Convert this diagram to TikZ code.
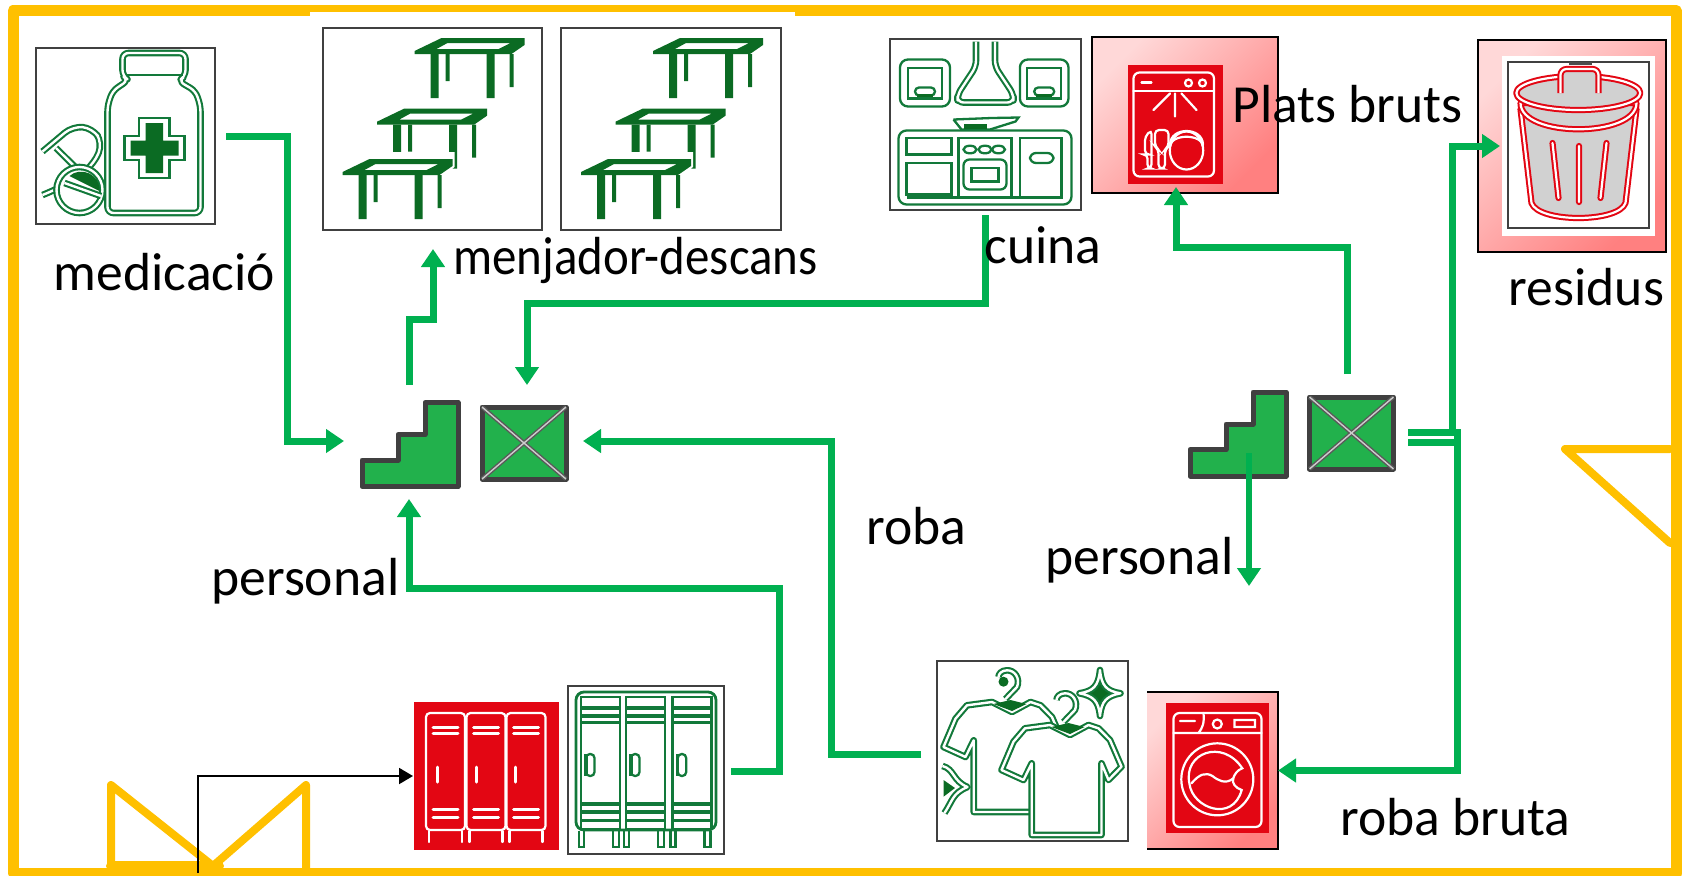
\documentclass[tikz,border=0pt]{standalone}
\usepackage{fontspec}
\usepackage{graphicx}
\setmainfont{Carlito}
\usetikzlibrary{arrows.meta}
\definecolor{framegold}{HTML}{FFC000}
\definecolor{flowgreen}{HTML}{00B050}
\definecolor{stairgreen}{HTML}{22B14C}
\definecolor{icongreen}{HTML}{12793A}
\definecolor{icondark}{HTML}{0B6B23}
\definecolor{iconred}{HTML}{E30613}
\definecolor{pinklight}{HTML}{FFD8D8}
\definecolor{pinkdark}{HTML}{FF8080}
\tikzset{
    size/.style 2 args={minimum width=#1*0.5pt,minimum height=#2*0.5pt,inner sep=0pt,outer sep=0pt},
    iconbox/.style={draw=black!75,line width=0.6pt,fill=white},
    redbox/.style={fill=iconred},
    pinkbox/.style={left color=pinklight,right color=pinkdark,shading angle=45},
    label/.style={anchor=base west,inner sep=0pt,font=\fontsize{26.8}{30}\selectfont},
    wall/.style={draw=framegold,line width=5.5pt,line join=round},
    doorline/.style={draw=framegold,line width=4pt,line join=round,line cap=round},
    flowline/.style={draw=flowgreen,line width=3.5pt},
    flow/.style={flowline,-{Triangle[width=11.5pt,length=9pt]}},
    hollow/.style={draw=icongreen,double=white,line width=1.05pt,double distance=1.2pt,line join=round},
    thinline/.style={draw=icongreen,line width=1.15pt},
    redhollow/.style={draw=iconred,double=white,line width=1pt,double distance=1.1pt,line join=round},
    whiteline/.style={draw=white,line width=1.1pt,line cap=round},
    stairicon/.pic={
        \draw[draw=black!75,fill=stairgreen,line width=2.5pt,line join=round]
            (15,-42) -- (48,-42) -- (48,42) -- (-48,42) -- (-48,15.5) -- (-12,15.5) -- (-12,-10) -- (15,-10) -- cycle;
    },
    crossicon/.pic={
        \draw[draw=black!75,fill=stairgreen,line width=2.5pt,line join=round] (-42,-36) rectangle (42,36);
        \draw[draw=black!65,double=white!80!black,line width=0.7pt,double distance=0.7pt] (-42,-36) -- (42,36) (42,-36) -- (-42,36);
    },
    medicon/.pic={
        \draw[hollow,rounded corners=3pt] (3,-56) -- (-3,-60) -- (-3,-83) -- (60,-83) -- (60,-60) -- (53,-55) -- (70,-45) -- (75,-30) -- (75,77) -- (-18,77) -- (-18,-30) -- (-13,-45) -- cycle;
        \draw[thinline] (0,-61) -- (57,-61);
        \draw[thinline] (13.5,-18) -- (44,-18) -- (44,0) -- (59,0) -- (59,24) -- (44,24) -- (44,42) -- (13.5,42) -- (13.5,24) -- (-1,24) -- (-1,0) -- (13.5,0) -- cycle;
        \fill[icondark] (20,-13) -- (37.5,-13) -- (37.5,4.5) -- (53,4.5) -- (53,19.5) -- (37.5,19.5) -- (37.5,37) -- (20,37) -- (20,19.5) -- (5,19.5) -- (5,4.5) -- (20,4.5) -- cycle;
        \draw[hollow,rounded corners=5pt] (-83,15.5) -- (-53,-9.7) -- (-33,-8) -- (-23,7) -- (-31,27) -- (-53,45) -- (-73,55) -- (-83,59);
        \draw[hollow] (-69.5,12) -- (-46,35.3);
        \draw[hollow,fill=white] (-46,54) circle (23);
        \fill[icondark] (-56,40) .. controls (-45,30) and (-25,38) .. (-26,55) -- cycle;
        \draw[hollow] (-61,47) -- (-24.5,60);
    },
    onetable/.pic={
        \fill[white] (-4,18) -- (-4,10) -- (25,-7) -- (112,-7) -- (112,8) -- (98,20) -- cycle;
        \fill[icondark,even odd rule] (0,16) -- (0,13) -- (27,0) -- (110,0) -- (110,7) -- (97,16) -- cycle (22,11) -- (33,5) -- (96,5) -- (84,11) -- cycle;
        \fill[icondark] (16,16) rectangle (24,60) (31,16) rectangle (35,43) (72,16) rectangle (80,60) (95,16) rectangle (99,49);
    },
    tableset/.pic={
        \foreach \tx/\ty in {-18/-91,-55.5/-20.3,-90/30}
            \pic at (\tx,\ty) {onetable};
    },
    kitchenicon/.pic={
        \foreach \cx/\rx in {-60.5/25,58.7/24.3}{
            \draw[thinline,rounded corners=4pt] (\cx-\rx,-65) rectangle (\cx+\rx,-18);
            \draw[thinline] (\cx-17,-26) -- (\cx-17,-56.5) -- (\cx+17,-56.5) -- (\cx+17,-26) -- cycle;
            \draw[thinline,fill=white,rounded corners=2pt] (\cx-10,-37) rectangle (\cx+10,-29);
            \fill[icondark] (\cx-8,-31) rectangle (\cx+8,-28);
        }
        \draw[hollow,rounded corners=3pt] (-9.5,-83) -- (-9.5,-58) -- (-28,-30) -- (-28,-22) -- (28,-22) -- (28,-30) -- (9.5,-58) -- (9.5,-83);
        \draw[thinline,rounded corners=4pt] (-87,6) rectangle (86,80);
        \draw[thinline] (-79,13.5) rectangle (-34,30) (-79,38.5) rectangle (-34,70) (-27,13.5) rectangle (26,73) (34.5,13.5) rectangle (76,73);
        \draw[thinline] (-79,73) -- (76,73);
        \foreach \kx in {-15.5,-0.5,13}
            \draw[thinline] (\kx,25) ellipse (6.5 and 3.8);
        \draw[thinline,rounded corners=3pt] (-22,35) rectangle (21,65);
        \draw[thinline] (-14,43.5) rectangle (13,57);
        \draw[thinline,rounded corners=3pt] (44.5,28.5) rectangle (68,38.5);
        \draw[thinline] (-32,-5) -- (6,-6.5) -- (33,-7) -- (30,-3) -- (4.5,5) (-32,-5) -- (-24,5) -- (4.5,5);
        \fill[icondark] (-22,-0.5) rectangle (1,4);
    },
    dishicon/.pic={
        \draw[whiteline,rounded corners=3pt] (-42,-52) rectangle (38.5,52);
        \draw[whiteline] (-42,-33.5) -- (38.5,-33.5) (-34,-42) -- (-24,-42);
        \draw[whiteline] (13,-41.5) circle (3.5) (27,-41.5) circle (3.5);
        \draw[whiteline] (-5.5,-31) -- (-22,-14.5) (-0.5,-31) -- (-0.5,-8) (6,-31) -- (21,-14.5);
        \draw[whiteline] (11,26) ellipse (16.7 and 19);
        \draw[whiteline] (-5.5,22) .. controls (-5,9) and (27,9) .. (27.5,22) (-5.5,20) .. controls (-5,2) and (27,2) .. (27.5,20);
        \draw[whiteline,rounded corners=2pt] (-30.5,30) -- (-30.5,12) -- (-24,5.5) -- (-24,44) -- (-28,44) -- (-28,30) -- cycle;
        \draw[whiteline,rounded corners=2pt] (-20.5,5.5) -- (-20.5,22) -- (-17,25) -- (-17,44) -- (-10.5,44) -- (-10.5,25) -- (-7,22) -- (-7,5.5) -- cycle;
    },
    trashicon/.pic={
        \fill[black!70] (-10,-83) rectangle (13,-80);
        \draw[redhollow,fill=black!18] (-58,-36) -- (-47,58) .. controls (-40,78) and (40,78) .. (47,58) -- (58,-36) -- cycle;
        \draw[redhollow,fill=black!18] (-58,-42) .. controls (-58,-7) and (58,-7) .. (58,-42) -- cycle;
        \draw[redhollow,fill=black!18] (-0.2,-52) ellipse (62 and 17);
        \draw[redhollow,fill=black!18,rounded corners=3pt] (-18,-52) -- (-18,-76) -- (20,-76) -- (20,-52);
        \draw[redhollow,line cap=round] (-26,-2) -- (-20,53) (0.5,1) -- (0.5,57) (28,-2) -- (22,53);
    },
    redlockers/.pic={
        \foreach \lx/\hx in {-60.5/-49.5,-20/-10,20/29}{
            \draw[whiteline,rounded corners=2pt] (\lx,-63) rectangle (\lx+39,54);
            \draw[whiteline,line width=1.5pt] (\lx+7,-49) -- (\lx+32,-49) (\lx+7,-43) -- (\lx+32,-43) (\lx+7,33) -- (\lx+32,33) (\lx+7,41) -- (\lx+32,41);
            \draw[whiteline,line width=1.5pt] (\hx,-9) -- (\hx,6);
            \draw[whiteline] (\lx+3,55) -- (\lx+3,66) (\lx+36,55) -- (\lx+36,66);
        }
    },
    greenlockers/.pic={
        \draw[thinline,rounded corners=4pt,line width=1.4pt] (-70,60) -- (-70,-78) -- (70,-78) -- (70,60) -- cycle;
        \foreach \lx/\hx in {-65/-60,-20/-15,26.5/31.7}{
            \draw[thinline,line width=1.4pt] (\lx,-73) rectangle (\lx+39,59);
            \draw[thinline,line width=1.6pt] (\lx,-62) -- (\lx+39,-62) (\lx,-54) -- (\lx+39,-54) (\lx,-47.7) -- (\lx+39,-47.7) (\lx,34) -- (\lx+39,34) (\lx,42) -- (\lx+39,42) (\lx,50.7) -- (\lx+39,50.7);
            \draw[thinline,rounded corners=2pt] (\hx,-16) rectangle (\hx+8.5,6);
            \draw[thinline,line width=1.6pt] (\hx,-16) -- (\hx,6);
            \draw[thinline] (\lx-2,61) -- (\lx-2,77) -- (\lx+3,77) -- (\lx+3,61) (\lx+32,61) -- (\lx+32,77) -- (\lx+38,77) -- (\lx+38,61);
        }
    },
    shirt/.pic={
        \draw[hollow,fill=white] (17.5,-26) -- (-7.5,-22.7) -- (-19,-9.3) -- (-31,19) -- (-9,29) -- (-0.8,12.3) -- (-0.8,84) -- (69,84) -- (69,12.3) -- (76,29) -- (89,15.7) -- (77.5,-11) -- (66,-22.7) -- (56,-26) -- (37.5,-16) -- cycle;
        \fill[icondark] (19,-24) -- (36,-28) -- (52,-24) -- (37.5,-17) -- cycle;
        \draw[hollow] (31,-29) -- (42.5,-41) .. controls (46,-50) and (40,-58) .. (32.5,-57.7) .. controls (27,-57.7) and (24,-54) .. (24,-51);
    },
    laundryicon/.pic={
        \pic at (-58,-23) {shirt};
        \fill[icondark] (-29,-69.3) circle (5);
        \pic at (0,0) {shirt};
        \draw[hollow,fill=icondark] (67.5,-81) .. controls (69,-65) and (74,-60) .. (88,-57.7) .. controls (74,-55) and (69,-50) .. (67.5,-35) .. controls (66,-50) and (61,-55) .. (47,-57.7) .. controls (61,-60) and (66,-65) .. (67.5,-81) -- cycle;
        \fill[icondark] (-89,29) -- (-77.5,37) -- (-89,45.7) -- cycle;
        \draw[hollow] (-90,15) .. controls (-78,18) and (-80,30) .. (-65,36) .. controls (-80,42) and (-80,50) .. (-88,62);
    },
    washericon/.pic={
        \draw[whiteline,rounded corners=3pt] (-44,-55) rectangle (44,59);
        \draw[whiteline] (-44,-35) -- (44,-35) (-14,-55) .. controls (-13,-45) and (-15,-40) .. (-19,-35) (-37.5,-47) -- (-22.5,-47);
        \draw[whiteline] (17,-48) rectangle (37.5,-41) (-0.2,-44) circle (4.5);
        \draw[whiteline] (-0.2,11.3) circle (36);
        \draw[whiteline] (24.8,0.3) .. controls (5,-30) and (-35,-15) .. (-28,16) .. controls (-25,40) and (15,55) .. (24.2,22) .. controls (18,20) and (14,15) .. (15.8,10.3) .. controls (17,6) and (20,2) .. (24.8,0.3) -- cycle;
        \draw[whiteline] (-26,15.3) .. controls (-18,6) and (-12,4) .. (-5,8) .. controls (0,12) and (8,17) .. (15.8,10.3);
    }
}
\begin{document}
\begin{tikzpicture}[x=0.5pt,y=-0.5pt]
    \useasboundingbox (0,0) rectangle (1688,875);
    \draw[wall] (13,10.5) -- (1676,10.5) -- (1676,873) -- (13,873) -- cycle;
    \fill[white] (310,12) rectangle (795,17);
    \draw[doorline] (111,868) -- (111,785) -- (213,866) -- (306,785) -- (306,868);
    \draw[doorline,line width=5pt] (111,866) -- (219,866);
    \draw[doorline] (1670,449) -- (1565,449) -- (1670,543);

    \node[iconbox,size={179}{176}] (medbox) at (125.5,136) {};
    \node[iconbox,size={219}{202}] (tableA) at (432.5,129) {};
    \node[iconbox,size={220}{202}] (tableB) at (671,129) {};
    \node[iconbox,size={191}{171}] (kitchen) at (985.5,124.5) {};
    \node[pinkbox,draw=black,line width=0.9pt,size={186}{156}] (dish) at (1185,115) {};
    \node[redbox,size={95}{119}] (dishred) at (1175.5,124.5) {};
    \node[pinkbox,draw=black,line width=0.9pt,size={188}{212}] (trash) at (1572,146) {};
    \node[fill=white,size={153}{180}] (trashback) at (1578.5,146) {};
    \node[iconbox,size={141}{166}] (trashbox) at (1578.5,145) {};
    \node[size={102}{89}] (stairsL) at (410,444.5) {};
    \node[size={90}{78}] (crossL) at (524,443) {};
    \node[size={102}{88}] (stairsR) at (1238,434) {};
    \node[size={91}{78}] (crossR) at (1351.5,433) {};
    \node[redbox,size={145}{148}] (lockR) at (486.5,776) {};
    \node[iconbox,size={156}{168}] (lockG) at (646,770) {};
    \node[iconbox,size={191}{180}] (laundry) at (1032.5,751) {};
    \node[pinkbox,size={131}{157}] (washer) at (1212.5,770.5) {};
    \node[redbox,size={103}{130}] (washred) at (1217.5,768) {};
    \draw[black,line width=0.9pt] (washer.north west) -- (washer.north east) -- (washer.south east) -- (washer.south west);

    \pic at (medbox) {medicon};
    \pic at (tableA) {tableset};
    \pic at (tableB) {tableset};
    \pic at (kitchen) {kitchenicon};
    \pic at (dishred) {dishicon};
    \pic at (trashbox) {trashicon};
    \pic at (stairsL) {stairicon};
    \pic at (crossL) {crossicon};
    \pic at (stairsR) {stairicon};
    \pic at (crossR) {crossicon};
    \pic at (lockR) {redlockers};
    \pic at (lockG) {greenlockers};
    \pic at (laundry) {laundryicon};
    \pic at (washred) {washericon};

    \coordinate (entry) at (198,873);
    \draw[flow] ([shift={(11,0)}]medbox.east) -- ++(61,0) |- ([shift={(-15,-3.5)}]stairsL.west);
    \draw[flow] ([shift={(-1,-15)}]stairsL.north) -- ++(0,-66) -| ([shift={(0.5,19)}]tableA.south);
    \draw[flow] ([shift={(0,5)}]kitchen.south) -- ++(0,88) -| ([shift={(3,-19)}]crossL.north);
    \draw[flow] ([shift={(-16,3)}]laundry.west) -- ++(-90,0) |- ([shift={(14,-2)}]crossL.east);
    \draw[flow] ([shift={(7,1)}]lockG.east) -- ++(48,0) -- ++(0,-183) -| ([shift={(-1,10)}]stairsL.south);
    \draw[flow] ([shift={(-4.5,-20)}]crossR.north) -- ++(0,-127) -| ([shift={(-9,-6)}]dish.south);
    \draw[flow] ([shift={(11,-0.5)}]crossR.east) -- ++(44.5,0) |- ([shift={(22,0)}]trash.west);
    \draw[flow] ([shift={(11,-0.5)}]crossR.east) -- ++(49,0) |- (washer.east);
    \draw[flowline] ([shift={(11,9.5)}]crossR.east) -- ++(49,0);
    \draw[flow,line width=3pt] ([shift={(11,-25)}]stairsR.south) -- ([shift={(11,108)}]stairsR.south);
    \draw[black,line width=1pt,-{Triangle[width=8pt,length=7pt]}] (entry) |- ([shift={(-1,0)}]lockR.west);

    \node[label] (medlabel) at (53.5,290) {medicació};
    \node[label] (tablelabel) at (453,274) {\scalebox{0.913}[1]{menjador-descans}};
    \node[label] (kitchenlabel) at (984,263) {cuina};
    \node[label] (dishlabel) at (1232,122) {Plats bruts};
    \node[label] (trashlabel) at (1508.5,305) {residus};
    \node[label] (clotheslabel) at (866,544) {roba};
    \node[label] (staffL) at (211,595) {personal};
    \node[label] (staffR) at (1045,574) {personal};
    \node[label] (dirtylabel) at (1340,835) {roba bruta};
\end{tikzpicture}
\end{document}
